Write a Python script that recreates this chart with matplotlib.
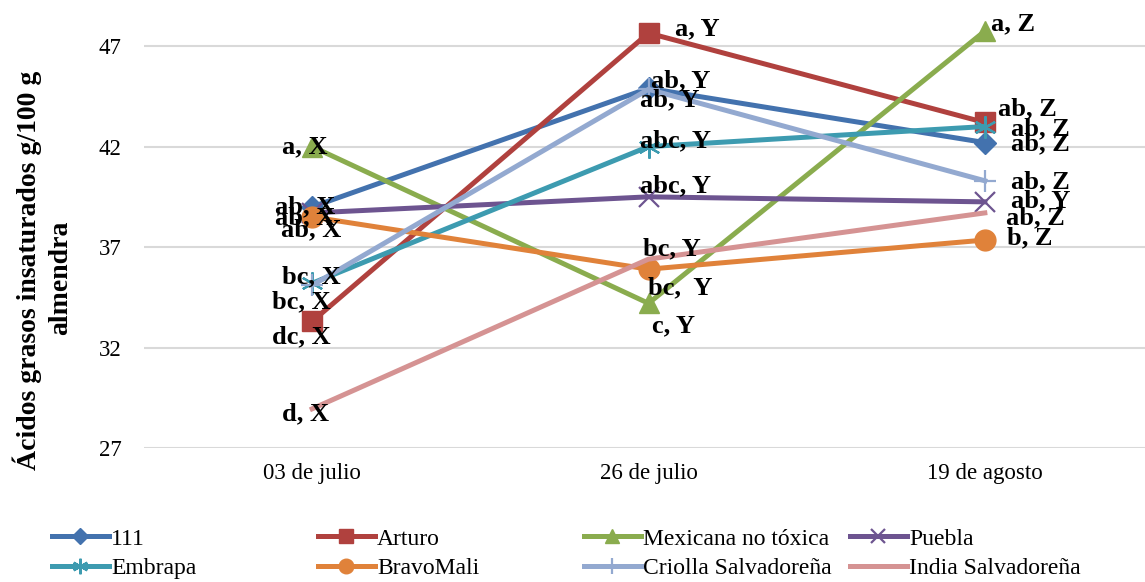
import numpy as np
import matplotlib.pyplot as plt
from matplotlib.lines import Line2D

fechas = ["03 de julio", "26 de julio", "19 de agosto"]
variedades = ["111", "Arturo", "Mexicana no tóxica", "Puebla",
              "Embrapa", "BravoMali", "Criolla Salvadoreña", "India Salvadoreña"]

v_111 = [39.0, 44.9, 42.2]
v_arturo = [33.3, 47.65, 43.2]
v_mexicana = [42.0, 34.2, 47.75]
v_puebla = [38.7, 39.5, 39.25]
v_embrapa = [35.2, 42.0, 43.0]
v_bravomali = [38.5, 35.9, 37.35]
v_criolla = [35.1, 44.85, 40.3]
v_india = [28.95, 36.4, 38.7]

lab_111 = ["ab, X", "ab, Y", "ab, Z"]
lab_arturo = ["dc, X", "a, Y", "ab, Z"]
lab_mexicana = ["a, X", "c, Y", "a, Z"]
lab_puebla = ["ab, X", "abc, Y", "ab, Y"]
lab_embrapa = ["bc, X", "abc, Y", "ab, Z"]
lab_bravomali = ["ab, X", "bc,  Y", "b, Z"]
lab_criolla = ["bc, X", "ab, Y", "ab, Z"]
lab_india = ["d, X", "bc, Y", "ab, Z"]

valores = [v_111, v_arturo, v_mexicana, v_puebla, v_embrapa, v_bravomali, v_criolla, v_india]
etiquetas = [lab_111, lab_arturo, lab_mexicana, lab_puebla, lab_embrapa, lab_bravomali, lab_criolla, lab_india]

# estilo de cada serie
colores = ["#4372ae", "#b0413e", "#8aac4e", "#6d5490", "#3d9bb0", "#e0823a", "#93a9d0", "#d59393"]
marcas = ["D", "s", "^", "x", (6, 2, 0), "o", "+", None]
tam = [11, 14, 15, 14, 16, 15, 16, 0]
# desplazamiento de etiquetas en pixeles (dx, dy hacia abajo)
offs = [
    [(-7, 0), (32, -8), (56, 1)],
    [(-11, 15), (49, -4), (43, -14)],
    [(-7, 0), (25, 22), (28, -7)],
    [(-7, 5), (27, -11), (56, -1)],
    [(-1, -6), (27, -6), (56, 2)],
    [(-1, 13), (32, 19), (45, -2)],
    [(-11, 17), (21, 10), (56, 1)],
    [(-7, 5), (23, -10), (51, 5)],
]

plt.rcParams['font.family'] = ['Liberation Serif', 'DejaVu Serif']

fig = plt.figure(figsize=(11.45, 5.82), dpi=100)
ax = fig.add_axes([144/1145, 1 - 448/582, 1009/1145, (448 - 16)/582])

def mew_de(m):
    return 1.6 if m in ["x", "+"] or isinstance(m, tuple) else 1

x = np.arange(len(fechas))
for i in range(len(variedades)):
    if marcas[i] is None:
        ax.plot(x, valores[i], color=colores[i], lw=3.6, zorder=3)
    else:
        ax.plot(x, valores[i], color=colores[i], lw=3.6, marker=marcas[i],
                markersize=tam[i], mew=mew_de(marcas[i]), zorder=3)

for i in range(len(variedades)):
    for j in range(len(fechas)):
        dx, dy = offs[i][j]
        ax.annotate(etiquetas[i][j], (x[j], valores[i][j]), xytext=(dx, -dy),
                    textcoords='offset pixels', ha='center', va='center',
                    fontsize=19, fontweight='bold', color='black', zorder=5)

ax.set_xlim(-0.5, 2.5)
ax.set_ylim(27, 48.5)
ax.set_yticks([27, 32, 37, 42, 47])
ax.set_xticks(x)
ax.set_xticklabels(fechas)
ax.tick_params(axis='both', length=0, labelsize=16.5)
ax.tick_params(axis='x', pad=11)
ax.tick_params(axis='y', pad=16)
ax.grid(axis='y', color='#d9d9d9', lw=1.5, zorder=0)
for s in ax.spines.values():
    s.set_visible(False)

fig.text(27/1145, 1 - 270/582, "Ácidos grasos insaturados g/100 g", rotation=90,
         ha='center', va='center', fontsize=20, fontweight='bold')
fig.text(61/1145, 1 - 278/582, "almendra", rotation=90,
         ha='center', va='center', fontsize=20, fontweight='bold')

# leyenda en 4 columnas con ancho igual, orden por filas como en el original
col_x = [52, 318, 584, 850]
for c in range(4):
    hs = []
    for i in [c, c + 4]:
        if marcas[i] is None:
            hs.append(Line2D([], [], color=colores[i], lw=3.6))
        else:
            hs.append(Line2D([], [], color=colores[i], lw=3.6, marker=marcas[i],
                             markersize=tam[i] * 0.7, mew=mew_de(marcas[i])))
    leg = fig.legend(hs, [variedades[c], variedades[c + 4]], loc='upper left',
                     bbox_to_anchor=(col_x[c]/1145, 1 - 528/582), frameon=False,
                     fontsize=17, handlelength=2.4, handletextpad=0.1,
                     labelspacing=0.35, borderpad=0, borderaxespad=0)

fig.savefig("out.png", dpi=100)
